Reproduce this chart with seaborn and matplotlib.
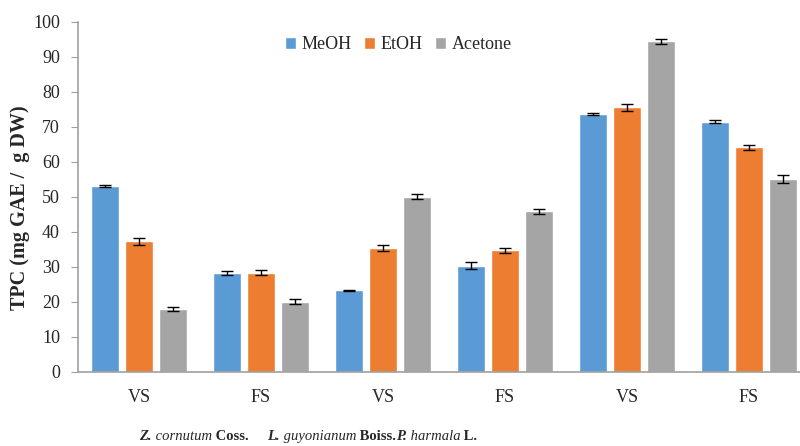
import numpy as np
import pandas as pd
import seaborn as sns
import matplotlib.pyplot as plt

# Values
groups = ["Z-VS", "Z-FS", "L-VS", "L-FS", "P-VS", "P-FS"]
group_labels = ["VS", "FS", "VS", "FS", "VS", "FS"]
solvents = ["MeOH", "EtOH", "Acetone"]
meoh = [53.1, 28.3, 23.3, 30.4, 73.8, 71.5]
etoh = [37.3, 28.4, 35.4, 34.8, 75.6, 64.2]
acetone = [17.9, 20.1, 50.1, 45.9, 94.4, 55.1]
meoh_err = [0.4, 0.5, 0.2, 0.9, 0.3, 0.5]
etoh_err = [1.0, 0.8, 0.75, 0.7, 1.0, 0.75]
acetone_err = [0.6, 0.75, 0.7, 0.7, 0.7, 1.1]
colors = ["#5B9BD5", "#ED7D31", "#A5A5A5"]

df = pd.DataFrame({
    "group": groups * 3,
    "solvent": np.repeat(solvents, len(groups)),
    "tpc": meoh + etoh + acetone,
})

sns.set_style("white")
plt.rcParams["font.family"] = ["Liberation Serif", "DejaVu Serif"]

fig = plt.figure(figsize=(8, 4.46), dpi=100)
ax = fig.add_axes([0.0975, 0.166, 0.915, 0.785])

sns.barplot(data=df, x="group", y="tpc", hue="solvent", order=groups,
            hue_order=solvents, palette=colors, width=0.83, gap=0.16,
            errorbar=None, saturation=1, ax=ax)

# error bars on top of each bar
for cont, errs in zip(ax.containers, [meoh_err, etoh_err, acetone_err]):
    xs = [p.get_x() + p.get_width() / 2 for p in cont]
    ys = [p.get_height() for p in cont]
    ax.errorbar(xs, ys, yerr=errs, fmt="none", ecolor="black",
                elinewidth=1, capsize=4, capthick=1)

ax.set_xlim(-0.5, 5.5)
ax.set_ylim(0, 100)
ax.set_yticks(range(0, 101, 10))
ax.set_xticks(range(6))
ax.set_xticklabels(group_labels)
ax.set_xticks(np.arange(-0.5, 6, 1), minor=True)
ax.tick_params(axis="x", which="major", length=0, labelsize=13, pad=12)
ax.tick_params(axis="x", which="minor", length=5, color="#A0A0A0")
ax.tick_params(axis="y", length=5, color="#A0A0A0", labelsize=13,
               left=True, pad=8)
ax.set_xlabel("")
ax.set_ylabel("TPC (mg GAE /  g DW)", fontsize=14.5, fontweight="bold")
ax.yaxis.set_label_coords(-0.066, 0.47)

for side in ["top", "right"]:
    ax.spines[side].set_visible(False)
for side in ["left", "bottom"]:
    ax.spines[side].set_color("#A0A0A0")
    ax.spines[side].set_linewidth(1.2)

ax.legend(loc="upper center", bbox_to_anchor=(0.438, 1.005), ncol=3,
          frameon=False, fontsize=13, handlelength=0.6, handleheight=0.6,
          handletextpad=0.3, columnspacing=0.7)

# species names under the groups
species = [("Z.", " cornutum", " Coss.", 0.174),
           ("L.", " guyonianum", " Boiss.", 0.334),
           ("P.", " harmala", " L.", 0.495)]
for genus, epithet, author, xpos in species:
    t1 = fig.text(xpos, 0.006, genus, fontsize=10.5, fontweight="bold",
                  fontstyle="italic", va="bottom")
    t2 = ax.annotate(epithet, xy=(1, 0), xycoords=t1, va="bottom",
                     fontsize=10.5, fontstyle="italic", annotation_clip=False)
    ax.annotate(author, xy=(1, 0), xycoords=t2, va="bottom",
                fontsize=10.5, fontweight="bold", annotation_clip=False)

fig.savefig("out.png", dpi=100)
